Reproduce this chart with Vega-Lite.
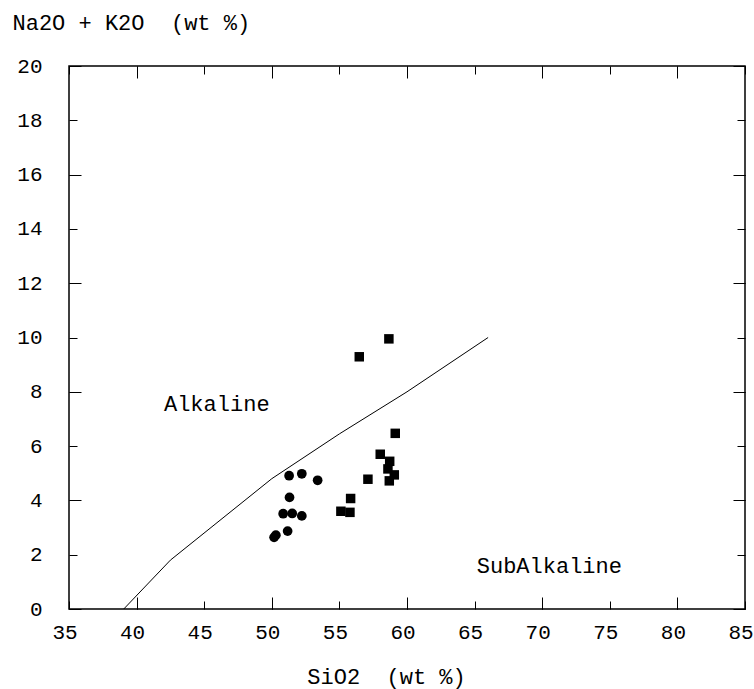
{
  "$schema": "https://vega.github.io/schema/vega-lite/v6.json",
  "width": 676,
  "height": 543,
  "autosize": {"type": "none"},
  "padding": {"left": 69, "top": 66, "right": 9, "bottom": 80},
  "background": "#ffffff",
  "config": {
    "font": "Liberation Mono",
    "view": {"stroke": "#000000", "strokeWidth": 1.5},
    "axis": {
      "domain": false, "grid": false, "tickColor": "#000000", "tickWidth": 1,
      "labelColor": "#000000", "labelFont": "Liberation Mono", "labelFontSize": 21,
      "titleFont": "Liberation Mono", "titleFontSize": 22, "titleFontWeight": "normal", "titleColor": "#000000"
    }
  },
  "datasets": {
    "boundary": [
      {"i": 1, "sio2": 39.05, "alk": 0},
      {"i": 2, "sio2": 42.5, "alk": 1.8},
      {"i": 3, "sio2": 50.0, "alk": 4.8},
      {"i": 4, "sio2": 55.0, "alk": 6.45},
      {"i": 5, "sio2": 60.0, "alk": 8.0},
      {"i": 6, "sio2": 66.0, "alk": 10.0}
    ],
    "samples": [
      {"group": "circle", "sio2": 51.28, "alk": 4.91},
      {"group": "circle", "sio2": 52.22, "alk": 4.98},
      {"group": "circle", "sio2": 53.39, "alk": 4.74},
      {"group": "circle", "sio2": 51.31, "alk": 4.11},
      {"group": "circle", "sio2": 50.84, "alk": 3.51},
      {"group": "circle", "sio2": 51.51, "alk": 3.52},
      {"group": "circle", "sio2": 52.22, "alk": 3.43},
      {"group": "circle", "sio2": 51.17, "alk": 2.87},
      {"group": "circle", "sio2": 50.17, "alk": 2.64},
      {"group": "circle", "sio2": 50.3, "alk": 2.72},
      {"group": "square", "sio2": 58.66, "alk": 9.95},
      {"group": "square", "sio2": 56.47, "alk": 9.29},
      {"group": "square", "sio2": 59.13, "alk": 6.47},
      {"group": "square", "sio2": 58.02, "alk": 5.70},
      {"group": "square", "sio2": 58.72, "alk": 5.44},
      {"group": "square", "sio2": 58.59, "alk": 5.16},
      {"group": "square", "sio2": 59.06, "alk": 4.94},
      {"group": "square", "sio2": 58.69, "alk": 4.72},
      {"group": "square", "sio2": 57.11, "alk": 4.78},
      {"group": "square", "sio2": 55.83, "alk": 4.07},
      {"group": "square", "sio2": 55.11, "alk": 3.60},
      {"group": "square", "sio2": 55.78, "alk": 3.56}
    ],
    "fields": [
      {"name": "Alkaline", "sio2": 45.93, "alk": 7.55},
      {"name": "SubAlkaline", "sio2": 70.53, "alk": 1.58}
    ]
  },
  "layer": [
    {
      "data": {"name": "boundary"},
      "mark": {"type": "line", "color": "#000000", "strokeWidth": 1},
      "encoding": {
        "x": {"field": "sio2", "type": "quantitative",
              "scale": {"domain": [35, 85], "nice": false, "zero": false},
              "axis": {"orient": "bottom", "values": [35, 40, 45, 50, 55, 60, 65, 70, 75, 80, 85], "tickSize": -8,
                       "labelPadding": 20, "labelOffset": -4.5, "labelFlush": false, "labelOverlap": false,
                       "title": "SiO2\u00a0\u00a0(wt %)", "titleX": 317, "titleY": 67, "titleAlign": "center", "titleBaseline": "middle"}},
        "y": {"field": "alk", "type": "quantitative",
              "scale": {"domain": [0, 20], "nice": false, "zero": true},
              "axis": {"orient": "left", "values": [0, 2, 4, 6, 8, 10, 12, 14, 16, 18, 20], "tickSize": -8,
                       "labelPadding": 35, "labelFlush": false, "labelOverlap": false,
                       "title": "Na2O + K2O\u00a0\u00a0(wt %)", "titleAngle": 0, "titleX": -57, "titleY": -44,
                       "titleAlign": "left", "titleBaseline": "middle"}},
        "order": {"field": "i", "type": "quantitative"}
      }
    },
    {
      "data": {"name": "samples"},
      "transform": [{"filter": "datum.group === 'circle'"}],
      "mark": {"type": "point", "shape": "circle", "filled": true, "color": "#000000", "size": 95, "opacity": 1},
      "encoding": {
        "x": {"field": "sio2", "type": "quantitative",
              "axis": {"orient": "bottom", "values": [40, 50, 60, 70, 80], "tickSize": -12, "labels": false, "title": null}},
        "y": {"field": "alk", "type": "quantitative",
              "axis": {"orient": "left", "values": [0, 4, 8, 12, 16, 20], "tickSize": -12, "labels": false, "title": null}}
      }
    },
    {
      "data": {"name": "samples"},
      "transform": [{"filter": "datum.group === 'square'"}],
      "mark": {"type": "point", "shape": "square", "filled": true, "color": "#000000", "size": 90, "opacity": 1},
      "encoding": {
        "x": {"field": "sio2", "type": "quantitative",
              "axis": {"orient": "top", "values": [35, 40, 45, 50, 55, 60, 65, 70, 75, 80, 85], "tickSize": -8, "labels": false, "title": null}},
        "y": {"field": "alk", "type": "quantitative",
              "axis": {"orient": "right", "values": [0, 2, 4, 6, 8, 10, 12, 14, 16, 18, 20], "tickSize": -8, "labels": false, "title": null}}
      }
    },
    {
      "data": {"name": "fields"},
      "mark": {"type": "text", "font": "Liberation Mono", "fontSize": 22, "color": "#000000", "align": "center", "baseline": "middle"},
      "encoding": {
        "x": {"field": "sio2", "type": "quantitative",
              "axis": {"orient": "top", "values": [40, 50, 60, 70, 80], "tickSize": -12, "labels": false, "title": null}},
        "y": {"field": "alk", "type": "quantitative",
              "axis": {"orient": "right", "values": [0, 4, 8, 12, 16, 20], "tickSize": -12, "labels": false, "title": null}},
        "text": {"field": "name", "type": "nominal"}
      }
    }
  ],
  "resolve": {"axis": {"x": "independent", "y": "independent"}}
}
